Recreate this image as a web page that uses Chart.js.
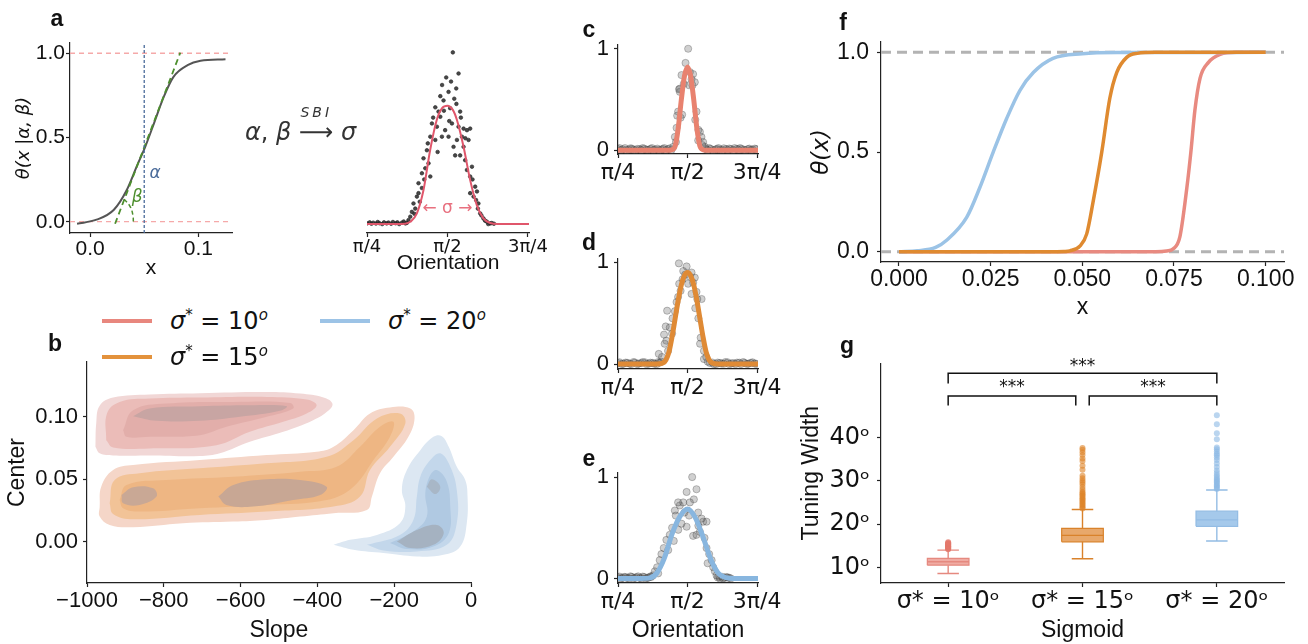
<!DOCTYPE html>
<html>
<head>
<meta charset="utf-8">
<script src="https://cdn.jsdelivr.net/npm/chart.js@4.4.1/dist/chart.umd.min.js"></script>
<style>
  body { margin: 0; background: #fff; }
  #fig { position: relative; width: 1308px; height: 644px; overflow: hidden; font-family: 'Liberation Sans', Arial, sans-serif; color: #111; }
  canvas { position: absolute; }
  .lbl { position: absolute; line-height: 1; white-space: nowrap; z-index: 2; }
  .pl { font-weight: bold; font-size: 23px; transform: translate(-50%, -50%); }
  .math { font-family: 'DejaVu Sans', sans-serif; font-size: 24px; transform: translateY(-50%); }
  .math sup { font-size: 15px; vertical-align: 9px; line-height: 0; }
  .key { position: absolute; height: 4px; z-index: 2; }
</style>
</head>
<body>
<div id="fig">
  <div class="lbl pl" style="left:57px;top:18px">a</div>
  <div class="lbl pl" style="left:55px;top:343px">b</div>
  <div class="lbl pl" style="left:589px;top:29px">c</div>
  <div class="lbl pl" style="left:589px;top:242px">d</div>
  <div class="lbl pl" style="left:589px;top:458px">e</div>
  <div class="lbl pl" style="left:843px;top:22px">f</div>
  <div class="lbl pl" style="left:847px;top:345px">g</div>

  <div class="lbl math" style="left:245px;top:132px;color:#333">
    <i>α</i>, <i>β</i> <span style="position:relative;display:inline-block">⟶<span style="position:absolute;left:50%;top:-15px;transform:translateX(-50%);font-size:14px;font-style:italic;letter-spacing:3px">SBI</span></span> <i>σ</i>
  </div>

  <div class="key" style="left:102px;top:319px;width:50px;background:#e8877e"></div>
  <div class="lbl math" style="left:170px;top:321px"><i>σ</i><sup>*</sup> = 10<sup><i>o</i></sup></div>
  <div class="key" style="left:320px;top:319px;width:50px;background:#9cc3e6"></div>
  <div class="lbl math" style="left:388px;top:321px"><i>σ</i><sup>*</sup> = 20<sup><i>o</i></sup></div>
  <div class="key" style="left:102px;top:355px;width:50px;background:#e3923c"></div>
  <div class="lbl math" style="left:170px;top:357px"><i>σ</i><sup>*</sup> = 15<sup><i>o</i></sup></div>
</div>

<script>
// ---------------- data ----------------
// a (left): sigmoid schematic
const aSigX = [-0.012, 0.006, 0.022, 0.034, 0.043, 0.051, 0.059, 0.068, 0.077, 0.090, 0.102, 0.125];
const aSigY = [-0.012, 0.012, 0.071, 0.19, 0.327, 0.446, 0.584, 0.741, 0.86, 0.929, 0.955, 0.964];
const aTanX = [0.0231, 0.0833];
const aTanY = [-0.012, 1.004];
const aArcX = [0.0315, 0.037, 0.0395, 0.040];
const aArcY = [0.134, 0.09, 0.041, -0.004];
const aAlpha = 0.05;
const aLevels = [0, 1];

// orientation axis (degrees, shown as fractions of pi)
const oriTicks = [45, 90, 135];
const oriLabels = ['π/4', 'π/2', '3π/4'];

// a (right): tuning curve example
const aFitX = [45, 62, 66, 69.2, 72.9, 76.6, 80.3, 84, 87, 90, 93, 95.3, 99, 102.7, 106.4, 110.1, 114, 118, 136];
const aFitY = [0, 0, 0.002, 0.013, 0.062, 0.198, 0.43, 0.606, 0.675, 0.689, 0.665, 0.606, 0.45, 0.256, 0.11, 0.033, 0.006, 0, 0];
const aDots = [
  [45,0.004],[46.5,0.01],[47.5,0.002],[48.5,0.008],[50,0.003],[51,0.012],[52,0.005],[53.5,0],[54.5,0.01],[56,0.004],
  [57,0.009],[58.5,0.002],[59.5,0.012],[61,0.005],[62,0.01],[63,0],[64.5,0.008],[65.5,0.015],[66.5,0.004],[67.3,0.007],
  [68.2,0.023],[69.2,0.043],[70.1,0.071],[71,0.12],[72,0.09],[72.9,0.16],[73.8,0.18],[73.8,0.238],[75.7,0.21],[75.7,0.296],
  [76.6,0.383],[77.6,0.325],[78.5,0.43],[79.4,0.354],[80.4,0.277],[80.4,0.509],[81.3,0.586],[83.2,0.49],[83.2,0.68],[84.1,0.567],
  [85,0.655],[86,0.745],[86,0.625],[86.9,0.509],[87.8,0.72],[88.7,0.547],[89.3,0.854],[90.6,0.77],[90.6,0.509],[91.5,0.675],
  [92.5,0.586],[93,1.0],[93.4,0.45],[93.8,0.73],[94.3,0.40],[94.9,0.79],[95.3,0.49],[96.2,0.877],[96.2,0.567],[97.1,0.655],
  [97.1,0.40],[98.1,0.509],[99,0.45],[99,0.556],[99.9,0.372],[100.9,0.547],[100.9,0.315],[101.8,0.49],[102.7,0.556],[102.7,0.277],
  [102.7,0.18],[103.7,0.334],[104.6,0.16],[105.5,0.218],[106.5,0.19],[107,0.09],[107.3,0.12],[108.3,0.062],[110.1,0.033],[112,0.014],
  [113.9,0.004],[111,0.02],[112.8,0],[114.8,0.006],[116,0.002],[82,0.62],[84.5,0.42],[87,0.81],[88,0.66],[91,0.6],
  [92,0.83],[95,0.7],[97.5,0.62],[100,0.5],[79,0.47],[77,0.26],[104,0.26],[106,0.14],[74.5,0.13],[71.5,0.06],[109,0.05]
];

// c, d, e: fitted tuning curves and responses
const cFitX = [45, 78, 80, 82, 84, 86, 88, 90, 92, 94, 96, 98, 100, 102, 136];
const cFitY = [0, 0, 0.005, 0.04, 0.22, 0.5, 0.73, 0.82, 0.73, 0.5, 0.22, 0.04, 0.005, 0, 0];
const cDots = [
  [45,0.01],[47,0],[49.5,0.02],[52,0.005],[54,0.015],[56.5,0],[59,0.01],[61,0.02],[63.5,0.005],[66,0.012],[68,0],[70.5,0.015],
  [73,0.005],[75,0.02],[77.5,0.01],[79.5,0],[102,0.01],[104,0.02],[106.5,0],[109,0.012],[111,0.005],[113.5,0.018],[116,0],
  [118,0.01],[120.5,0.02],[123,0.005],[125,0.012],[127.5,0],[130,0.015],[132,0.005],[134.5,0.01],
  [46,0.02],[48,0.008],[50.5,0],[53,0.018],[55,0.003],[57.5,0.012],[60,0],[62,0.014],[64.5,0.002],[67,0.02],[69,0.006],
  [71.5,0],[74,0.012],[76,0],[78.5,0.018],[103,0],[105,0.012],[108,0.005],[110,0.02],[112.5,0],[115,0.01],[117,0.016],
  [119.5,0],[122,0.012],[124,0.02],[126.5,0.004],[129,0.01],[131,0],[133.5,0.015],
  [90.4,1.0],[88.7,0.86],[86.1,0.74],[93.6,0.75],[92.6,0.70],[85,0.607],[87.6,0.655],[91,0.64],[85,0.575],[83.9,0.38],
  [83.3,0.34],[85.5,0.32],[95.8,0.38],[95,0.30],[82.9,0.22],[81.8,0.13],[98,0.18],[99,0.13],[96.9,0.096],[100.1,0.08],
  [80.7,0.032],[101.2,0.032],[93.2,0.64],[91.5,0.77],[94.7,0.67],[84.5,0.6],[86.5,0.35],[97,0.2],[82.5,0.08],[99.5,0.05]
];
const dFitX = [45, 70, 74, 76, 78, 80, 82, 84, 86, 88, 90, 92, 94, 96, 98, 100, 102, 104, 106, 110, 136];
const dFitY = [0, 0, 0.01, 0.04, 0.12, 0.27, 0.45, 0.63, 0.78, 0.87, 0.9, 0.87, 0.78, 0.63, 0.45, 0.27, 0.12, 0.04, 0.01, 0, 0];
const dDots = [
  [45,0.01],[47.5,0],[50,0.015],[52.5,0.005],[55,0.02],[57.5,0],[60,0.01],[62.5,0.018],[65,0.005],[67.5,0.012],[70,0],[72,0.015],
  [104.5,0.01],[107,0],[109.5,0.015],[112,0.005],[114.5,0.02],[117,0],[119.5,0.01],[122,0.015],[124.5,0],[127,0.012],
  [129.5,0.005],[132,0.018],[134.5,0.003],
  [46,0.018],[48.5,0.004],[51,0.012],[53.5,0],[56,0.016],[58.5,0.006],[61,0.02],[63.5,0],[66,0.014],[68.5,0.004],[71,0.02],
  [106,0.016],[108.5,0],[111,0.012],[113.5,0.004],[116,0.018],[118.5,0.006],[121,0],[123.5,0.014],[126,0.02],[128.5,0.002],
  [131,0.012],[133.5,0.006],
  [84.4,0.99],[89.4,0.96],[87.2,0.915],[92.6,0.90],[94.7,0.85],[93.6,0.80],[85.5,0.72],[83.9,0.66],[95.8,0.71],[92.6,0.69],
  [99.1,0.64],[96.3,0.64],[82.9,0.61],[76.8,0.525],[81.8,0.52],[80.3,0.45],[75.9,0.37],[78.5,0.36],[74.8,0.29],[76.3,0.23],
  [75.2,0.20],[71.4,0.10],[77.4,0.13],[98.1,0.20],[98.5,0.26],[100.6,0.13],[102.1,0.07],[103.1,0.024],[73.5,0.07],[73,0.024],
  [86.8,0.834],[90.4,0.79],[84.6,0.79],[100.6,0.05],[88.5,0.88],[91.5,0.86],[97,0.45],[95,0.55],[80,0.3]
];
const eFitX = [45, 60, 65, 70, 75, 80, 85, 90, 95, 100, 105, 110, 115, 120, 136];
const eFitY = [0, 0, 0.003, 0.05, 0.2, 0.44, 0.61, 0.685, 0.6, 0.41, 0.19, 0.05, 0.008, 0, 0];
const eDots = [
  [45,0.01],[47,0],[49,0.015],[51,0.005],[53,0.02],[55,0],[57,0.012],[59,0.005],[61,0.018],[63,0],[65,0.01],[66.5,0.015],
  [109.5,0.01],[111,0],[112.5,0.015],[114,0.005],[116,0.01],[118,0],
  [46,0.018],[48,0.004],[50,0.012],[52,0],[54,0.016],[56,0.006],[58,0.02],[60,0],[62,0.014],[64,0.004],[66,0.02],
  [110.5,0.018],[113,0.002],[115,0.014],[117,0.006],
  [93,1.0],[89.4,0.853],[95.8,0.88],[94.1,0.78],[85,0.72],[87.2,0.75],[91.5,0.75],[81.8,0.67],[82.4,0.62],[96.9,0.65],
  [100.1,0.56],[102.3,0.56],[86.1,0.54],[89.4,0.51],[93.6,0.42],[95.8,0.43],[98,0.46],[78.5,0.43],[76.3,0.38],[81.1,0.37],
  [102.3,0.30],[104,0.24],[74.6,0.30],[73.1,0.24],[72,0.18],[105.6,0.18],[106.6,0.11],[107.7,0.07],[70.3,0.11],[68.8,0.07],
  [108.8,0.03],[67.7,0.03],[83.9,0.75],[99.1,0.59],[88,0.65],[91,0.62],[97,0.52],[80,0.5],[84,0.48],[101,0.4],[77.5,0.28],
  [103,0.15],[71,0.05]
];

// f: fitted sigmoids
const fBlueX = [0, 0.005, 0.01, 0.013, 0.0185, 0.022, 0.0257, 0.0294, 0.033, 0.0367, 0.042, 0.05, 0.06, 0.1];
const fBlueY = [0, 0.005, 0.022, 0.058, 0.174, 0.32, 0.5, 0.67, 0.81, 0.9, 0.97, 0.993, 0.999, 1];
const fOrangeX = [0, 0.04, 0.045, 0.0466, 0.0494, 0.0512, 0.053, 0.0553, 0.0575, 0.0594, 0.0621, 0.065, 0.07, 0.1];
const fOrangeY = [0, 0.0005, 0.002, 0.005, 0.03, 0.09, 0.257, 0.5, 0.77, 0.9, 0.975, 0.995, 1, 1];
const fRedX = [0, 0.07, 0.073, 0.0748, 0.0766, 0.0785, 0.0796, 0.0807, 0.0821, 0.0844, 0.0876, 0.092, 0.1];
const fRedY = [0, 0, 0.004, 0.015, 0.075, 0.32, 0.5, 0.71, 0.87, 0.95, 0.99, 1, 1];
const fLevels = [0, 1];

// g: tuning width boxplots
const gCats = [1, 2, 3];
const gLabels = ['σ* = 10ᵒ', 'σ* = 15ᵒ', 'σ* = 20ᵒ'];
const gQ1 = [10.5, 15.9, 19.5];
const gMed = [11.3, 17.4, 21.0];
const gQ3 = [12.1, 19.0, 23.0];
const gLo = [8.6, 12.0, 16.1];
const gHi = [14.0, 23.4, 27.9];
const gOut10 = [14.2, 14.35, 14.5, 14.6, 14.75, 14.9, 15.0, 15.15, 15.3, 15.45, 15.6, 15.8];
const gOut15 = [23.6, 23.9, 24.2, 24.5, 24.8, 25.1, 25.4, 25.7, 26.0, 26.3, 26.6, 26.9, 27.2, 27.5, 28.0, 28.6, 29.2, 29.7,
                30.1, 30.6, 31.2, 32.6, 33.5, 34.6, 35.2, 36.0, 36.6, 37.2, 37.6];
const gOut20 = [28.1, 28.4, 28.7, 29.0, 29.3, 29.6, 29.9, 30.2, 30.5, 30.9, 31.3, 31.8, 32.4, 33.2, 34.0, 34.8, 35.4, 35.9,
                36.3, 36.8, 37.3, 37.7, 39.6, 41.0, 43.1, 45.2];
const gBrackets = [[1, 3, 52.5, 54.9], [1, 1.95, 47.4, 49.6], [2.05, 3, 47.4, 49.6]];
const gStars = [[2, 56.4], [1.475, 51.5], [2.525, 51.5]];

// b: KDE contour outlines (slope, center), outer to inner
const redOuter = [[-978,0.076],[-976,0.0947],[-967,0.109],[-932,0.1155],[-837,0.118],[-706,0.119],[-532,0.12],[-445,0.1187],
  [-384,0.1155],[-361,0.1107],[-371,0.105],[-411,0.0973],[-489,0.088],[-576,0.08],[-654,0.0707],[-706,0.0685],[-837,0.069],
  [-932,0.069],[-967,0.0707]];
const redMid = [[-950,0.0813],[-948,0.1027],[-915,0.112],[-837,0.1147],[-706,0.1155],[-532,0.116],[-428,0.1139],[-402,0.1093],
  [-428,0.1027],[-489,0.096],[-576,0.088],[-663,0.0773],[-837,0.0747],[-932,0.0755]];
const redInner = [[-906,0.0893],[-880,0.1053],[-793,0.1107],[-619,0.112],[-471,0.1112],[-463,0.1067],[-532,0.1],[-637,0.092],
  [-706,0.0853],[-837,0.084],[-897,0.084]];
const redCore = [[-880,0.1005],[-837,0.1067],[-706,0.1085],[-576,0.1093],[-480,0.1085],[-498,0.1048],[-602,0.1],[-706,0.0968],
  [-819,0.0968]];
const orangeOuter = [[-967,0.028],[-963,0.044],[-932,0.0573],[-880,0.0613],[-706,0.0653],[-532,0.0693],[-402,0.072],[-358,0.076],
  [-306,0.0893],[-263,0.1027],[-211,0.1075],[-158,0.1067],[-147,0.0987],[-163,0.084],[-202,0.068],[-237,0.0547],[-258,0.036],
  [-271,0.0253],[-358,0.0227],[-445,0.02],[-532,0.0173],[-619,0.016],[-750,0.0147],[-880,0.0115],[-941,0.0133],[-967,0.02]];
const orangeMid = [[-941,0.0307],[-928,0.0493],[-863,0.0547],[-706,0.0587],[-532,0.0627],[-376,0.068],[-306,0.0813],[-245,0.0987],
  [-185,0.1027],[-171,0.0947],[-211,0.076],[-263,0.0573],[-289,0.036],[-358,0.028],[-532,0.024],[-706,0.0213],[-880,0.0179],
  [-932,0.0221]];
const orangeInner = [[-915,0.0333],[-897,0.0453],[-793,0.0493],[-619,0.052],[-445,0.056],[-350,0.06],[-289,0.076],[-237,0.092],
  [-202,0.096],[-211,0.084],[-254,0.0653],[-306,0.044],[-376,0.0333],[-532,0.0293],[-706,0.0267],[-863,0.024],[-906,0.0267]];
const orangeCoreA = [[-910,0.0373],[-880,0.0435],[-828,0.0427],[-819,0.036],[-863,0.0293],[-906,0.0307]];
const orangeCoreB = [[-658,0.036],[-619,0.0453],[-532,0.0499],[-445,0.0493],[-376,0.044],[-393,0.0373],[-463,0.0333],
  [-567,0.028],[-637,0.0293]];
const blueOuter = [[-358,-0.0027],[-315,0.0013],[-245,0.0053],[-185,0.0147],[-171,0.028],[-180,0.0413],[-167,0.0573],[-132,0.0733],
  [-98,0.084],[-76,0.0845],[-58,0.076],[-37,0.06],[-15,0.0493],[-9,0.036],[-11,0.0147],[-28,-0.004],[-72,-0.0107],[-141,-0.012],
  [-228,-0.0093],[-306,-0.0067]];
const blueMid = [[-271,-0.0027],[-185,0.0053],[-150,0.0173],[-141,0.036],[-132,0.052],[-106,0.0653],[-80,0.0707],[-54,0.06],
  [-37,0.0413],[-37,0.0147],[-63,-0.0027],[-141,-0.008],[-228,-0.0072]];
const blueInner = [[-211,-0.0013],[-150,0.008],[-115,0.02],[-119,0.0387],[-106,0.0533],[-89,0.0573],[-63,0.048],[-54,0.028],
  [-58,0.0067],[-98,-0.004],[-167,-0.0061]];
const blueCoreA = [[-193,0],[-141,0.0093],[-89,0.0133],[-71,0.0067],[-98,-0.0027],[-158,-0.0053]];
const blueCoreB = [[-115,0.044],[-102,0.0499],[-80,0.044],[-93,0.0381]];

// ---------------- helpers ----------------
const SANS = "'Liberation Sans', Arial, sans-serif";
const MATH = "'DejaVu Sans', sans-serif";
Chart.defaults.font.family = SANS;
Chart.defaults.color = '#111';

const notesPlugin = {
  id: 'notes',
  afterDatasetsDraw(chart, args, opts) {
    const ctx = chart.ctx;
    (opts.items || []).forEach(it => {
      ctx.save();
      ctx.font = it.font;
      ctx.fillStyle = it.color;
      ctx.textAlign = 'center';
      ctx.textBaseline = 'middle';
      ctx.fillText(it.text, chart.scales.x.getPixelForValue(it.x), chart.scales.y.getPixelForValue(it.y));
      ctx.restore();
    });
  }
};
Chart.register(notesPlugin);

function place(plot, yw, pt, pr, xh) {
  const c = document.createElement('canvas');
  c.width = Math.round(plot[2] - plot[0] + yw + pr);
  c.height = Math.round(plot[3] - plot[1] + pt + xh);
  c.style.left = Math.round(plot[0] - yw) + 'px';
  c.style.top = Math.round(plot[1] - pt) + 'px';
  document.getElementById('fig').appendChild(c);
  return c;
}

function axis(o) {
  return {
    type: 'linear', min: o.min, max: o.max,
    afterBuildTicks: s => { s.ticks = (o.ticks || []).map(v => ({ value: v })); },
    afterFit: s => { if (s.isHorizontal()) s.height = o.size; else s.width = o.size; },
    ticks: { display: !!o.ticks, callback: o.fmt, font: o.font, padding: o.pad || 0, color: '#111', maxRotation: 0, autoSkip: false },
    grid: { display: !!o.ticks, drawOnChartArea: false, tickLength: 4, tickColor: '#222', tickWidth: 1.2 },
    border: { display: o.border !== false, color: '#222', width: 1.2 },
    title: { display: !!o.title, text: o.title, font: o.tfont, color: '#111', padding: o.tpad || 0 }
  };
}

function opts(pt, pr, x, y, notes) {
  return {
    responsive: false, animation: false, events: [],
    layout: { padding: { left: 0, top: pt, right: pr, bottom: 0 } },
    scales: { x, y },
    plugins: { legend: { display: false }, tooltip: { enabled: false }, notes: { items: notes || [] } }
  };
}

function line(xs, ys, color, width, extra) {
  return Object.assign({ data: xs.map((x, i) => ({ x, y: ys[i] })), showLine: true, borderColor: color,
    borderWidth: width, pointRadius: 0, fill: false }, extra || {});
}
function dots(list, r, bg, border) {
  return { data: list.map(p => ({ x: p[0], y: p[1] })), showLine: false, pointRadius: r,
    backgroundColor: bg, borderColor: border, borderWidth: 0.8 };
}
function blob(poly, color, order) {
  const d = poly.concat([poly[0]]).map(p => ({ x: p[0], y: p[1] }));
  return { data: d, showLine: true, fill: 'shape', backgroundColor: color, borderColor: 'rgba(0,0,0,0)',
    borderWidth: 1, pointRadius: 0, tension: 0.4, order };
}

// ---------------- a (left) ----------------
(function () {
  const plot = [70, 43, 232, 233], yw = 70, pt = 23, pr = 20, xh = 55;
  const xMin = -0.0185, xMax = 0.131, yMin = -0.067, yMax = 1.061;
  const ds = [];
  aLevels.forEach(v => ds.push(line([xMin, xMax], [v, v], '#f5a9a9', 1.3, { borderDash: [5, 4], order: 5 })));
  ds.push(line(aSigX, aSigY, '#555', 2, { cubicInterpolationMode: 'monotone', order: 3 }));
  ds.push(line(aTanX, aTanY, '#4d8f2e', 1.8, { borderDash: [6, 4], order: 2 }));
  ds.push(line(aArcX, aArcY, '#4d8f2e', 1.5, { borderDash: [4, 3], tension: 0.4, order: 2 }));
  ds.push(line([aAlpha, aAlpha], [yMin, yMax], '#4a6b9a', 1.3, { borderDash: [3, 2], order: 1 }));
  new Chart(place(plot, yw, pt, pr, xh), {
    type: 'scatter', data: { datasets: ds },
    options: opts(pt, pr,
      axis({ min: xMin, max: xMax, ticks: [0, 0.1], fmt: v => v.toFixed(1), font: { size: 21 }, pad: 0, size: xh,
             title: 'x', tfont: { size: 21 }, tpad: 7 }),
      axis({ min: yMin, max: yMax, ticks: [0, 0.5, 1], fmt: v => v.toFixed(1), font: { size: 21 }, pad: 1, size: yw,
             title: 'θ(x |α, β)', tfont: { family: MATH, size: 18, style: 'italic' }, tpad: 14 }),
      [{ text: 'α', x: 0.0600, y: 0.288, color: '#4a6b9a', font: "italic 17px 'DejaVu Sans'" },
       { text: 'β', x: 0.0434, y: 0.146, color: '#4d8f2e', font: "italic 17px 'DejaVu Sans'" }])
  });
})();

// ---------------- a (right) ----------------
(function () {
  const plot = [367, 45, 529, 233], yw = 30, pt = 20, pr = 25, xh = 50;
  const ds = [
    line(aFitX, aFitY, '#e0566b', 2, { cubicInterpolationMode: 'monotone', order: 1 }),
    Object.assign(dots(aDots, 1.8, 'rgba(40,40,40,0.85)', 'rgba(40,40,40,0.85)'), { order: 2 })
  ];
  new Chart(place(plot, yw, pt, pr, xh), {
    type: 'scatter', data: { datasets: ds },
    options: opts(pt, pr,
      axis({ min: 45, max: 135.6, ticks: oriTicks, fmt: (v, i) => oriLabels[i], font: { family: MATH, size: 18 }, pad: 0,
             size: xh, title: 'Orientation', tfont: { size: 21 }, tpad: 7 }),
      axis({ min: -0.052, max: 1.043, size: yw, border: false }),
      [{ text: '← σ →', x: 90, y: 0.09, color: '#e8707f', font: "17px 'DejaVu Sans'" }])
  });
})();

// ---------------- c, d, e ----------------
function tuningPanel(plot, yMin, yMax, fitX, fitY, color, pts, withTitle) {
  const yw = 70, pt = 15, pr = 30, xh = withTitle ? 644 - plot[3] : 35;
  const ds = [
    line(fitX, fitY, color, 5, { cubicInterpolationMode: 'monotone', order: 1 }),
    Object.assign(dots(pts, 3.6, 'rgba(100,100,100,0.3)', 'rgba(40,40,40,0.35)'), { order: 2 })
  ];
  new Chart(place(plot, yw, pt, pr, xh), {
    type: 'scatter', data: { datasets: ds },
    options: opts(pt, pr,
      axis({ min: 45, max: 135.6, ticks: oriTicks, fmt: (v, i) => oriLabels[i], font: { family: MATH, size: 22 }, pad: 2,
             size: xh, title: withTitle ? 'Orientation' : '', tfont: { size: 23 }, tpad: 0 }),
      axis({ min: yMin, max: yMax, ticks: [0, 1], fmt: v => String(v), font: { size: 22 }, pad: 5, size: yw }))
  });
}
tuningPanel([618, 41, 758, 154], -0.038, 1.045, cFitX, cFitY, '#e8826f', cDots, false);
tuningPanel([618, 255, 758, 369], -0.048, 1.041, dFitX, dFitY, '#df8a35', dDots, false);
tuningPanel([618, 469, 758, 583], -0.045, 1.048, eFitX, eFitY, '#88b6df', eDots, true);

// ---------------- f ----------------
(function () {
  const plot = [881, 40, 1284, 262], yw = 80, pt = 20, pr = 24, xh = 60;
  const xMin = -0.0049, xMax = 0.105;
  const ds = [];
  fLevels.forEach(v => ds.push(line([xMin, xMax], [v, v], '#b3b3b3', 3, { borderDash: [10, 6], order: 9 })));
  ds.push(line(fRedX, fRedY, '#e88a80', 3.5, { cubicInterpolationMode: 'monotone', order: 3 }));
  ds.push(line(fBlueX, fBlueY, '#9bc3e6', 3.5, { cubicInterpolationMode: 'monotone', order: 2 }));
  ds.push(line(fOrangeX, fOrangeY, '#df8a30', 3.5, { cubicInterpolationMode: 'monotone', order: 1 }));
  new Chart(place(plot, yw, pt, pr, xh), {
    type: 'scatter', data: { datasets: ds },
    options: opts(pt, pr,
      axis({ min: xMin, max: xMax, ticks: [0, 0.025, 0.05, 0.075, 0.1], fmt: v => v.toFixed(3), font: { size: 23 }, pad: 0,
             size: xh, title: 'x', tfont: { size: 23 }, tpad: 1 }),
      axis({ min: -0.051, max: 1.053, ticks: [0, 0.5, 1], fmt: v => v.toFixed(1), font: { size: 23 }, pad: 8, size: yw,
             title: 'θ(x)', tfont: { family: MATH, size: 23, style: 'italic' }, tpad: 7 }))
  });
})();

// ---------------- g ----------------
(function () {
  const plot = [881, 362, 1284, 583], yw = 90, pt = 20, pr = 24, xh = 61;
  const boxFill = ['rgba(236,150,140,0.8)', 'rgba(226,146,70,0.8)', 'rgba(160,198,234,0.95)'];
  const boxEdge = ['#e5897f', '#d9822b', '#93bce4'];
  const outFill = ['rgba(228,120,108,0.8)', 'rgba(222,132,40,0.6)', 'rgba(140,185,228,0.6)'];
  const outs = [gOut10, gOut15, gOut20];
  const hw = 0.155, cap = 0.08;
  const ds = [];
  gCats.forEach((c, i) => {
    const poly = [[c - hw, gQ1[i]], [c + hw, gQ1[i]], [c + hw, gQ3[i]], [c - hw, gQ3[i]]];
    ds.push(Object.assign(blob(poly, boxFill[i], 3), { tension: 0, borderColor: boxEdge[i], borderWidth: 1.2 }));
    ds.push(line([c - hw, c + hw], [gMed[i], gMed[i]], boxEdge[i], 1.3, { order: 2 }));
    const w = [
      { x: c, y: gQ3[i] }, { x: c, y: gHi[i] }, { x: c, y: null },
      { x: c - cap, y: gHi[i] }, { x: c + cap, y: gHi[i] }, { x: c, y: null },
      { x: c, y: gQ1[i] }, { x: c, y: gLo[i] }, { x: c, y: null },
      { x: c - cap, y: gLo[i] }, { x: c + cap, y: gLo[i] }
    ];
    ds.push({ data: w, showLine: true, borderColor: boxEdge[i], borderWidth: 1.4, pointRadius: 0, fill: false, spanGaps: false, order: 2 });
    ds.push(Object.assign(dots(outs[i].map(v => [c, v]), 3, outFill[i], 'rgba(0,0,0,0)'), { order: 1 }));
  });
  gBrackets.forEach(b => {
    ds.push(line([b[0], b[0], b[1], b[1]], [b[2], b[3], b[3], b[2]], '#111', 1.5, { order: 1 }));
  });
  new Chart(place(plot, yw, pt, pr, xh), {
    type: 'scatter', data: { datasets: ds },
    options: opts(pt, pr,
      axis({ min: 0.5, max: 3.5, ticks: gCats, fmt: (v, i) => gLabels[i], font: { family: MATH, size: 24 }, pad: 0,
             size: xh, title: 'Sigmoid', tfont: { size: 23 }, tpad: 0 }),
      axis({ min: 6.39, max: 57.16, ticks: [10, 20, 30, 40], fmt: v => v + 'ᵒ', font: { family: MATH, size: 24 }, pad: 7,
             size: yw, title: 'Tuning Width', tfont: { size: 23 }, tpad: 7 }),
      gStars.map(s => ({ text: '***', x: s[0], y: s[1], color: '#111', font: "17px 'DejaVu Sans'" })))
  });
})();

// ---------------- b ----------------
(function () {
  const plot = [87, 362, 471, 583], yw = 87, pt = 20, pr = 25, xh = 61;
  const ds = [
    blob(redOuter, '#f1d7d6', 4), blob(redMid, '#ebbcb8', 3), blob(redInner, '#e2aeaa', 2), blob(redCore, '#c8a5a3', 1),
    blob(orangeOuter, '#f5d6c8', 4), blob(orangeMid, '#f2c397', 3), blob(orangeInner, '#eeb683', 2),
    blob(orangeCoreA, '#c9a895', 1), blob(orangeCoreB, '#c8a794', 1),
    blob(blueOuter, '#dce7f2', 4), blob(blueMid, '#c3d7eb', 3), blob(blueInner, '#b0c9e2', 2),
    blob(blueCoreA, '#a5b2c1', 1), blob(blueCoreB, '#a8b7c7', 1)
  ];
  new Chart(place(plot, yw, pt, pr, xh), {
    type: 'scatter', data: { datasets: ds },
    options: opts(pt, pr,
      axis({ min: -1000, max: 0, ticks: [-1000, -800, -600, -400, -200, 0], fmt: v => (v < 0 ? '−' + Math.abs(v) : String(v)),
             font: { size: 22 }, pad: 1, size: xh, title: 'Slope', tfont: { size: 23 }, tpad: 0 }),
      axis({ min: -0.0333, max: 0.144, ticks: [0, 0.05, 0.1], fmt: v => v.toFixed(2), font: { size: 22 }, pad: 5, size: yw,
             title: 'Center', tfont: { size: 23 }, tpad: 4 }))
  });
})();
</script>
</body>
</html>
